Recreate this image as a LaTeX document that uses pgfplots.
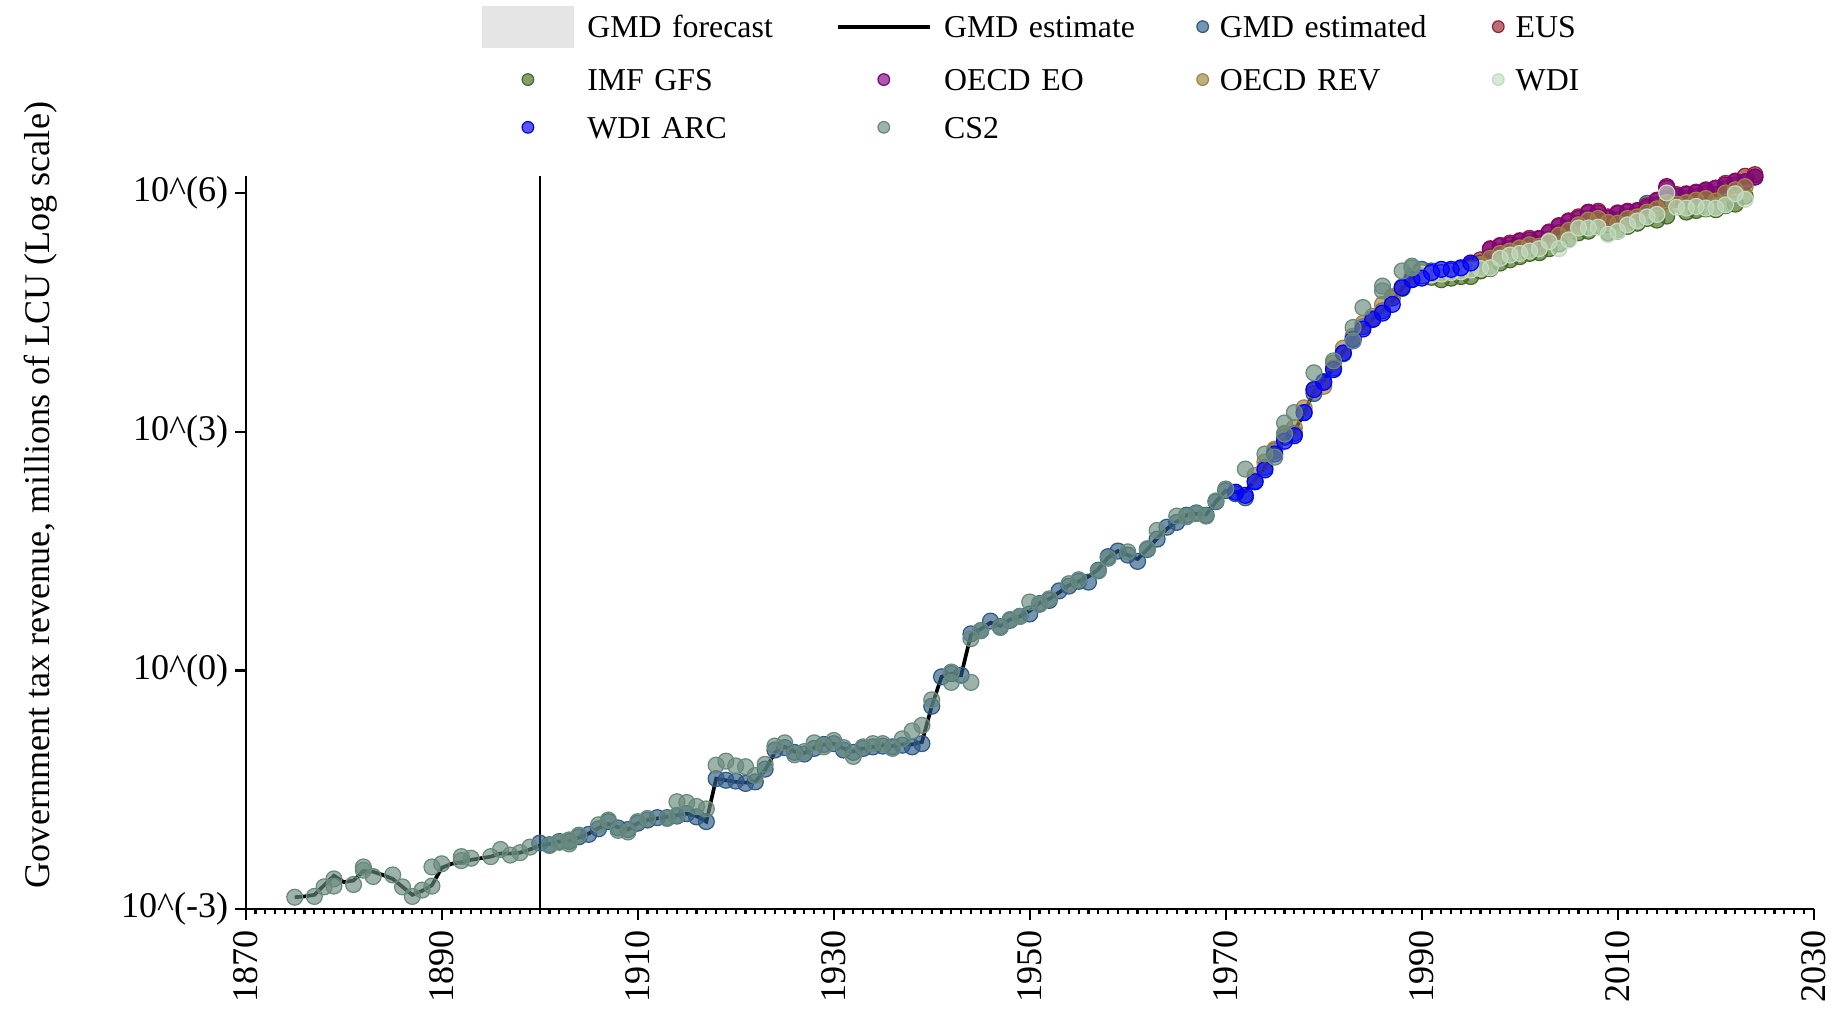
\documentclass[border=0pt]{standalone}
\usepackage{fontspec}
\setmainfont{Liberation Serif}
\usepackage{pgfplots}
\usepackage{pgfplotstable}
\pgfplotsset{compat=1.18}

\definecolor{gmdest}{RGB}{46,90,135}
\definecolor{eus}{RGB}{149,34,48}
\definecolor{imf}{RGB}{69,105,32}
\definecolor{oecdeo}{RGB}{128,0,128}
\definecolor{oecdrev}{RGB}{158,131,65}
\definecolor{wdi}{RGB}{192,219,192}
\definecolor{wdiarc}{RGB}{0,0,255}
\definecolor{cstwo}{RGB}{104,138,124}
\definecolor{fcst}{RGB}{229,229,229}

% values are log10 of revenue (millions of LCU)
\pgfplotstableread{
year val
1875 -2.85
1876 -2.84
1877 -2.82
1878 -2.70
1879 -2.58
1880 -2.66
1881 -2.64
1882 -2.52
1883 -2.53
1884 -2.57
1885 -2.62
1886 -2.72
1887 -2.82
1888 -2.77
1889 -2.70
1890 -2.48
1891 -2.43
1892 -2.41
1893 -2.38
1894 -2.36
1895 -2.34
1896 -2.30
1897 -2.30
1898 -2.29
1899 -2.25
1900 -2.20
1901 -2.18
1902 -2.15
1903 -2.14
1904 -2.10
1905 -2.05
1906 -1.98
1907 -1.93
1908 -1.97
1909 -2.00
1910 -1.92
1911 -1.88
1912 -1.86
1913 -1.84
1914 -1.82
1915 -1.80
1916 -1.83
1917 -1.90
1918 -1.36
1919 -1.38
1920 -1.40
1921 -1.41
1922 -1.40
1923 -1.25
1924 -1.03
1925 -0.96
1926 -1.02
1927 -1.04
1928 -0.97
1929 -0.93
1930 -0.92
1931 -0.98
1932 -1.02
1933 -0.98
1934 -0.96
1935 -0.94
1936 -0.95
1937 -0.93
1938 -0.93
1939 -0.90
1940 -0.45
1941 -0.08
1942 -0.04
1943 -0.06
1944 0.45
1945 0.52
1946 0.60
1947 0.56
1948 0.64
1949 0.68
1950 0.75
1951 0.85
1952 0.90
1953 0.98
1954 1.07
1955 1.12
1956 1.18
1957 1.27
1958 1.42
1959 1.50
1960 1.45
1961 1.40
1962 1.52
1963 1.66
1964 1.78
1965 1.87
1966 1.95
1967 1.97
1968 1.96
1969 2.12
1970 2.26
1971 2.24
1972 2.25
1973 2.40
1974 2.56
1975 2.75
1976 2.92
1977 3.00
1978 3.24
1979 3.50
1980 3.65
1981 3.80
1982 4.00
1983 4.18
1984 4.32
1985 4.42
1986 4.52
1987 4.64
1988 4.80
1989 4.93
1990 5.00
1991 5.02
1992 5.02
1993 5.03
1994 5.05
1995 5.08
1996 5.12
1997 5.20
1998 5.25
1999 5.30
2000 5.34
2001 5.37
2002 5.36
2003 5.42
2004 5.50
2005 5.56
2006 5.62
2007 5.68
2008 5.70
2009 5.60
2010 5.66
2011 5.70
2012 5.72
2013 5.80
2014 5.85
2015 5.93
2016 5.92
2017 5.93
2018 5.96
2019 6.00
2020 5.98
2021 6.06
2022 6.10
2023 6.14
2024 6.20
}\gmdline

\pgfplotstableread{
year val
1900 -2.17
1901 -2.19
1902 -2.15
1903 -2.15
1904 -2.09
1905 -2.06
1906 -1.99
1907 -1.90
1908 -1.98
1909 -2.00
1910 -1.92
1911 -1.88
1912 -1.85
1913 -1.85
1914 -1.83
1915 -1.80
1916 -1.84
1917 -1.90
1918 -1.36
1919 -1.38
1920 -1.39
1921 -1.42
1922 -1.40
1923 -1.24
1924 -1.00
1925 -0.97
1926 -1.03
1927 -1.05
1928 -0.98
1929 -0.93
1930 -0.92
1931 -1.00
1932 -1.03
1933 -0.98
1934 -0.96
1935 -0.95
1936 -0.96
1937 -0.94
1938 -0.96
1939 -0.92
1940 -0.45
1941 -0.08
1942 -0.04
1943 -0.06
1944 0.46
1945 0.50
1946 0.62
1947 0.55
1948 0.63
1949 0.68
1950 0.71
1951 0.84
1952 0.88
1953 1.00
1954 1.06
1955 1.12
1956 1.11
1957 1.26
1958 1.43
1959 1.50
1960 1.45
1961 1.37
1962 1.52
1963 1.65
1964 1.80
1965 1.86
1966 1.95
1967 1.98
1968 1.95
1969 2.12
1970 2.26
1971 2.22
1972 2.17
1973 2.38
1974 2.55
1975 2.76
1976 2.93
1977 2.98
1978 3.24
1979 3.48
1980 3.63
1981 3.80
1982 3.98
1983 4.17
1984 4.32
1985 4.42
1986 4.52
1987 4.68
1988 4.80
1989 4.92
1990 5.04
1991 5.02
1992 5.00
1993 5.02
1994 5.05
1995 5.08
1996 5.12
1997 5.20
1998 5.26
1999 5.30
2000 5.34
2001 5.37
2002 5.36
2003 5.42
2004 5.50
2005 5.56
2006 5.62
2007 5.68
2008 5.70
2009 5.60
2010 5.66
2011 5.70
2012 5.72
2013 5.87
2014 5.85
2015 5.93
2016 5.92
2017 5.93
2018 5.96
2019 6.00
2020 5.98
2021 6.06
2022 6.10
2023 6.14
2024 6.20
}\gmdpts

\pgfplotstableread{
year val
1995 5.10
1996 5.16
1997 5.30
1998 5.34
1999 5.37
2000 5.40
2001 5.43
2002 5.43
2003 5.51
2004 5.59
2005 5.65
2006 5.70
2007 5.76
2008 5.77
2009 5.70
2010 5.75
2011 5.77
2012 5.78
2013 5.84
2014 5.91
2015 6.06
2016 5.98
2017 5.99
2018 6.01
2019 6.04
2020 6.06
2021 6.12
2022 6.15
2023 6.21
2024 6.23
}\eus

\pgfplotstableread{
year val
1990 4.96
1991 4.94
1992 4.91
1993 4.93
1994 4.95
1995 4.95
1996 5.02
1997 5.05
1998 5.12
1999 5.16
2000 5.20
2001 5.24
2002 5.25
2003 5.30
2004 5.36
2005 5.42
2006 5.50
2007 5.52
2008 5.58
2009 5.50
2010 5.52
2011 5.58
2012 5.62
2013 5.68
2014 5.66
2015 5.71
2016 5.94
2017 5.76
2018 5.78
2019 5.80
2020 5.79
2021 5.84
2022 5.86
2023 5.96
}\imf

\pgfplotstableread{
year val
1997 5.29
1998 5.33
1999 5.35
2000 5.39
2001 5.41
2002 5.42
2003 5.50
2004 5.58
2005 5.64
2006 5.68
2007 5.75
2008 5.75
2009 5.68
2010 5.74
2011 5.76
2012 5.77
2013 5.82
2014 5.90
2015 6.08
2016 5.96
2017 5.98
2018 6.00
2019 6.03
2020 6.06
2021 6.10
2022 6.14
2023 6.14
2024 6.20
}\oecdeo

\pgfplotstableread{
year val
1973 2.45
1974 2.62
1975 2.78
1976 2.98
1977 3.05
1978 3.30
1979 3.52
1980 3.57
1981 3.86
1982 4.05
1983 4.20
1984 4.36
1985 4.45
1986 4.60
1987 4.70
1988 4.82
1989 4.95
1990 5.00
1991 4.98
1992 4.97
1993 5.00
1994 5.02
1995 5.05
1996 5.10
1997 5.18
1998 5.24
1999 5.27
2000 5.31
2001 5.35
2002 5.33
2003 5.40
2004 5.47
2005 5.53
2006 5.60
2007 5.66
2008 5.68
2009 5.63
2010 5.62
2011 5.68
2012 5.70
2013 5.76
2014 5.80
2015 5.88
2016 5.86
2017 5.88
2018 5.91
2019 5.93
2020 5.90
2021 6.00
2022 6.04
2023 6.08
}\oecdrev

\pgfplotstableread{
year val
1990 4.98
1991 4.97
1992 4.98
1993 5.00
1994 5.01
1995 5.03
1996 5.05
1997 5.06
1998 5.18
1999 5.22
2000 5.24
2001 5.27
2002 5.30
2003 5.39
2004 5.30
2005 5.41
2006 5.56
2007 5.56
2008 5.57
2009 5.48
2010 5.52
2011 5.60
2012 5.65
2013 5.70
2014 5.73
2015 6.00
2016 5.82
2017 5.81
2018 5.83
2019 5.81
2020 5.81
2021 5.85
2022 5.99
2023 5.92
}\wdi

\pgfplotstableread{
year val
1971 2.24
1972 2.20
1973 2.37
1974 2.52
1975 2.72
1976 2.88
1977 2.95
1978 3.24
1979 3.53
1980 3.62
1981 3.78
1982 3.99
1983 4.16
1984 4.29
1985 4.41
1986 4.49
1987 4.60
1988 4.81
1989 4.91
1990 4.93
1991 5.00
1992 5.04
1993 5.04
1994 5.06
1995 5.12
}\wdiarc

\pgfplotstableread{
year val
1875 -2.85
1877 -2.84
1878 -2.72
1879 -2.62
1879 -2.71
1881 -2.69
1882 -2.47
1882 -2.51
1883 -2.59
1885 -2.57
1886 -2.72
1887 -2.84
1888 -2.76
1889 -2.71
1889 -2.47
1890 -2.43
1892 -2.39
1892 -2.34
1893 -2.36
1895 -2.34
1896 -2.25
1897 -2.32
1898 -2.29
1899 -2.22
1901 -2.20
1902 -2.16
1903 -2.13
1903 -2.18
1904 -2.07
1906 -1.94
1907 -1.88
1908 -2.01
1909 -2.03
1910 -1.90
1911 -1.86
1913 -1.86
1914 -1.82
1914 -1.65
1915 -1.66
1916 -1.71
1917 -1.74
1918 -1.19
1919 -1.14
1920 -1.20
1921 -1.21
1922 -1.32
1923 -1.18
1924 -0.95
1925 -0.91
1926 -1.06
1927 -1.02
1928 -0.91
1929 -0.96
1930 -0.88
1931 -0.97
1932 -1.08
1933 -0.96
1934 -0.92
1935 -0.92
1936 -0.98
1937 -0.86
1938 -0.76
1939 -0.69
1940 -0.37
1942 -0.15
1942 -0.02
1944 -0.15
1944 0.40
1945 0.50
1947 0.54
1948 0.64
1949 0.68
1950 0.86
1951 0.83
1952 0.90
1954 1.09
1955 1.14
1957 1.25
1958 1.41
1960 1.49
1962 1.53
1963 1.76
1965 1.94
1966 1.93
1967 1.97
1968 1.94
1969 2.13
1970 2.28
1972 2.53
1974 2.72
1975 2.68
1976 2.97
1976 3.11
1977 3.24
1979 3.74
1981 3.89
1983 4.14
1983 4.31
1984 4.56
1986 4.77
1986 4.83
1988 5.02
1989 5.06
1989 5.08
}\cstwo

\pgfplotsset{
  dots/.style={only marks, mark=*, mark size=2.6pt, color=#1,
    mark options={draw=none, fill=#1, fill opacity=0.65}},
  lgwide/.style={legend image code/.code={%
    \path[draw=none,fill=none] (0pt,-7.8pt) rectangle (29.9pt,7.8pt);
    \draw[##1, mark size=1.9pt] plot coordinates {(14.9pt,1.3pt)};}},
  lgnarrow/.style={legend image code/.code={%
    \draw[##1, mark size=1.9pt] plot coordinates {(0pt,1.3pt)};}},
  lgline/.style={legend image code/.code={%
    \draw[##1] (0pt,1.1pt) -- (29.9pt,1.1pt);}},
  lgpatch/.style={legend image code/.code={%
    \path[draw=none,fill=none] (0pt,-9.5pt) rectangle (29.9pt,7.8pt);
    \fill[fcst] (0pt,-5.6pt) rectangle (29.9pt,7.7pt);}},
}

\begin{document}
\begin{tikzpicture}
\useasboundingbox (-80.3pt,-34.6pt) rectangle (520.0pt,297.1pt);
\begin{axis}[
    at={(0pt,0pt)}, anchor=south west,
    scale only axis,
    width=512.4pt, height=239.5pt,
    xmin=1870, xmax=2030,
    ymin=-3, ymax=6.21,
    clip=false,
    axis lines*=left,
    axis line style={line width=0.8pt},
    xtick={1870,1890,1910,1930,1950,1970,1990,2010,2030},
    xticklabels={1870,1890,1910,1930,1950,1970,1990,2010,2030},
    minor x tick num=19,
    ytick={-3,0,3,6},
    yticklabels={10\textasciicircum(-3),10\textasciicircum(0),10\textasciicircum(3),10\textasciicircum(6)},
    tick align=outside,
    major tick length=3.5pt,
    minor tick length=1.7pt,
    tick style={black, line width=0.7pt},
    tick label style={font=\fontsize{11.8}{14}\selectfont},
    xticklabel style={rotate=90, anchor=east},
    yticklabel style={inner xsep=2pt},
    ylabel={Government tax revenue, millions of LCU (Log scale)},
    ylabel style={at={(axis description cs:-0.1306,0.565)}, anchor=center,
      font=\fontsize{11.8}{14}\selectfont},
    legend columns=4,
    legend cell align=left,
    legend style={at={(0.1505,1.2317)}, anchor=north west,
      draw=none, fill=none, inner sep=0pt, outer sep=0pt,
      font=\fontsize{10.4}{12}\selectfont, row sep=0pt,
      nodes={inner sep=0pt, text height=10.2pt, text depth=5.4pt},
      /tikz/column 1/.style={column sep=4.2pt},
      /tikz/column 2/.style={text width=81.4pt, align=left, column sep=0pt},
      /tikz/column 3/.style={column sep=4.1pt},
      /tikz/column 4/.style={text width=82.6pt, align=left, column sep=0pt},
      /tikz/column 5/.style={column sep=3.7pt},
      /tikz/column 6/.style={text width=89.1pt, align=left, column sep=0pt},
      /tikz/column 7/.style={column sep=3.8pt}},
]
\addplot[black, line width=0.7pt, forget plot] coordinates {(1900,-3) (1900,6.21)};

\addlegendimage{lgpatch}
\addplot[black, line width=1.2pt, lgline] table[x=year,y=val] {\gmdline};
\addplot[dots=gmdest, lgnarrow] table[x=year,y=val] {\gmdpts};
\addplot[dots=eus, lgnarrow] table[x=year,y=val] {\eus};
\addplot[dots=imf, lgwide] table[x=year,y=val] {\imf};
\addplot[dots=oecdeo, lgwide] table[x=year,y=val] {\oecdeo};
\addplot[dots=oecdrev, lgnarrow] table[x=year,y=val] {\oecdrev};
\addplot[dots=wdi, lgnarrow] table[x=year,y=val] {\wdi};
\addplot[dots=wdiarc, lgwide] table[x=year,y=val] {\wdiarc};
\addplot[dots=cstwo, lgwide] table[x=year,y=val] {\cstwo};
\legend{GMD forecast, GMD estimate, GMD estimated, EUS, IMF GFS, OECD EO, OECD REV, WDI, WDI ARC, CS2}
\end{axis}
\end{tikzpicture}
\end{document}
